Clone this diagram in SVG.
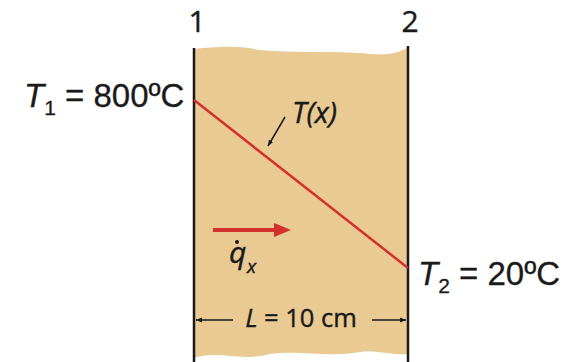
<svg xmlns="http://www.w3.org/2000/svg" width="565" height="362" viewBox="0 0 565 362">
<defs>
<style>
.lbl{font-family:"Liberation Sans",Arial,sans-serif;fill:#1a1a1a;stroke:#1a1a1a;stroke-width:0.3}
.cal{font-family:"Open Sans","Liberation Sans",sans-serif;fill:#1a1a1a;stroke:#1a1a1a;stroke-width:0.4}
.wall{stroke:#1a1a1a;stroke-width:2.5}
</style>
<marker id="ah" viewBox="0 0 10 10" refX="10" refY="5" markerWidth="6" markerHeight="6" orient="auto-start-reverse" markerUnits="userSpaceOnUse"><path d="M0,1 L10,5 L0,9 Z" fill="#1a1a1a"/></marker>
</defs>
<rect width="565" height="362" fill="#fff"/>
<g id="slab">
<path d="M194,49 C215,47 235,45 260,50 C290,53 330,51 360,53 C380,55 395,56 408,47 L408,362 L194,362 Z" fill="#E9CA92"/>
<path d="M194,358 C220,350 240,362 270,354 C300,350 330,358 360,352 C380,350 395,356 408,354 L408,362 L194,362 Z" fill="#fff"/>
<line class="wall" x1="194" y1="48" x2="194" y2="362"/>
<line class="wall" x1="408" y1="46" x2="408" y2="362"/>
</g>
<g id="labels-top">
<text class="cal" x="197" y="32" font-size="30" text-anchor="middle">1</text>
<text class="cal" x="410" y="32" font-size="30" text-anchor="middle">2</text>
</g>
<g id="profile">
<line x1="194" y1="100" x2="408" y2="268" stroke="#D2312E" stroke-width="2.5"/>
</g>
<g id="T1">
<text class="lbl" x="24" y="107" font-size="33"><tspan font-style="italic">T</tspan><tspan font-size="21" dy="8">1</tspan><tspan dy="-8"> = 800ºC</tspan></text>
</g>
<g id="T2">
<text class="lbl" x="418" y="285" font-size="33"><tspan font-style="italic">T</tspan><tspan font-size="21" dy="8">2</tspan><tspan dy="-8"> = 20ºC</tspan></text>
</g>
<g id="Tx">
<text class="cal" x="292" y="123" font-size="29" font-style="italic">T(x)</text>
</g>
<g id="qx">
<text class="cal" x="229" y="263" font-size="30" font-style="italic">q</text>
<circle cx="237" cy="242" r="2" fill="#1a1a1a"/>
<text class="cal" x="247" y="273" font-size="19" font-style="italic">x</text>
</g>
<g id="L">
<text class="cal" x="301" y="327" font-size="25.5" text-anchor="middle"><tspan font-style="italic">L</tspan> = 10 cm</text>
</g>
<g id="connectors">
<line x1="285" y1="117" x2="268" y2="146" stroke="#1a1a1a" stroke-width="1.5" marker-end="url(#ah)"/>
<line x1="213" y1="230" x2="276" y2="230" stroke="#D2312E" stroke-width="4"/>
<path d="M274,223 L291,230 L274,237 Z" fill="#D2312E"/>
<line x1="196" y1="320" x2="233" y2="320" stroke="#1a1a1a" stroke-width="1.5" marker-start="url(#ah)"/>
<line x1="372" y1="320" x2="406" y2="320" stroke="#1a1a1a" stroke-width="1.5" marker-end="url(#ah)"/>
</g>
</svg>
